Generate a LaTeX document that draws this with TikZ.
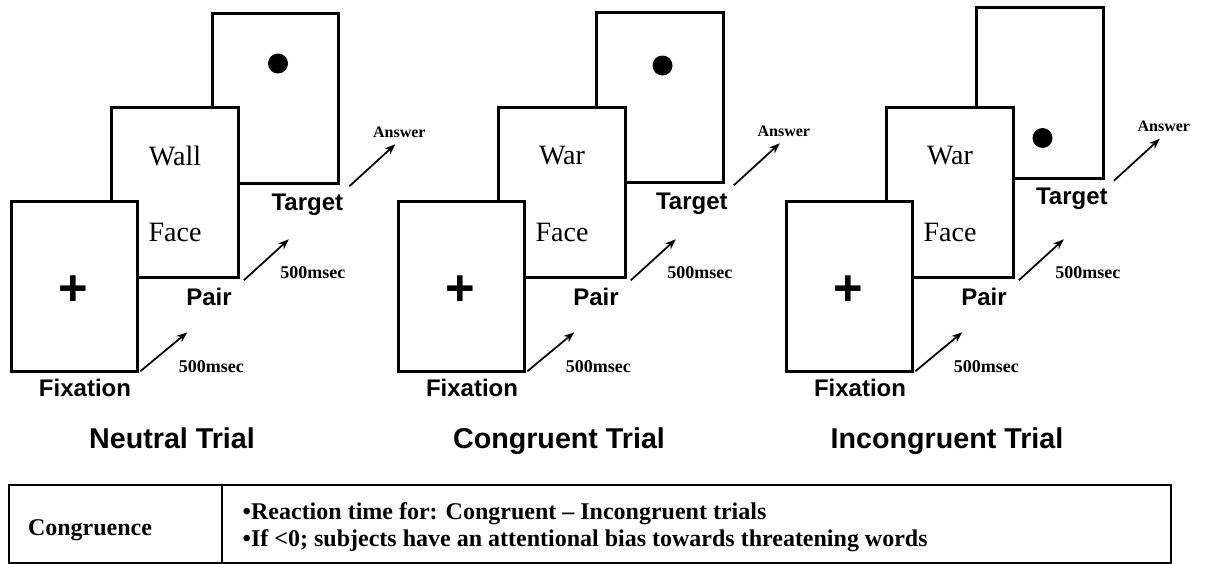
\documentclass[tikz,border=0pt]{standalone}
\usepackage{fontspec}
\setmainfont{Liberation Serif}
\setsansfont{Liberation Sans}
\usetikzlibrary{arrows.meta}
\tikzset{>=latex}
\tikzset{
  card/.style={draw, fill=white, line width=2.2pt, minimum width=95pt, minimum height=128pt, inner sep=0pt},
  word/.style={font=\fontsize{21}{24}\selectfont},
  stage/.style={anchor=base, font=\sffamily\bfseries\fontsize{18}{20}\selectfont},
  delay/.style={anchor=base, font=\bfseries\fontsize{13.5}{15}\selectfont},
  trial/.style={anchor=base, font=\sffamily\bfseries\fontsize{21.5}{24}\selectfont},
  flow/.style={->, line width=1.3pt, >={Stealth[length=8pt, width=6pt]}},
  cell/.style={anchor=base west, font=\bfseries\fontsize{18}{20}\selectfont},
}

\begin{document}
\begin{tikzpicture}[x=0.75pt, y=-0.75pt]
  \useasboundingbox (0,0) rectangle (1207,564);
  % three trials, one panel each
  \foreach \p/\dx/\tx/\ty/\word/\doty/\title in {n/0/275.5/98.5/Wall/-35/Neutral Trial, c/387/273/97.5/War/-32/Congruent Trial, i/775/265/93/War/45/Incongruent Trial}{
    \begin{scope}[shift={(\dx,0)}]
      \node[card] (target\p) at (\tx,\ty) {};
      \fill ([shift={(2.5,\doty)}]target\p.center) circle [radius=7.5pt];
      \node[card] (pair\p) at (175,192.5) {};
      \node[word] (top\p) at (175,156) {\word};
      \node[word] (face\p) at (175,232) {Face};
      \node[card] (fix\p) at (74.5,286.5) {};
      \node[font=\sffamily\bfseries\fontsize{38}{38}\selectfont] (cross\p) at (73,291) {+};
      \node[stage] (fixname\p) at (85,396) {Fixation};
      \node[stage] (pairname\p) at (209,305) {Pair};
      \node[stage] (targetname\p) at ([shift={(-33,25)}]target\p.south east) {Target};
      \coordinate (a\p) at ([shift={(48,-41)}]fix\p.south east);
      \coordinate (b\p) at ([shift={(49,-40)}]pair\p.south east);
      \coordinate (c\p) at ([shift={(55,-41)}]target\p.south east);
      \draw[flow] ([shift={(1,-2)}]fix\p.south east) -- (a\p);
      \draw[flow] ([shift={(4,1)}]pair\p.south east) -- (b\p);
      \draw[flow] ([shift={(9,1)}]target\p.south east) -- (c\p);
      \node[delay] (wait1\p) at ([shift={(72,-1)}]fix\p.south east) {500msec};
      \node[delay] (wait2\p) at ([shift={(73,-1)}]pair\p.south east) {500msec};
      \node[delay, font=\bfseries\fontsize{12}{14}\selectfont] (answer\p) at ([shift={(59,-48)}]target\p.south east) {Answer};
      \node[trial] (title\p) at (172,448) {\title};
    \end{scope}
  }
  % measure table
  \draw[line width=1.6pt] (9,485) rectangle (1171,563);
  \draw[line width=1.2pt] (222,485) -- (222,563);
  \node[cell, anchor=base] (measure) at (90,535) {Congruence};
  \node[cell] (why1) at (238,519) {•Reaction time for: Congruent – Incongruent trials};
  \node[cell] (why2) at (238,546) {•If <0; subjects have an attentional bias towards threatening words};
\end{tikzpicture}
\end{document}
